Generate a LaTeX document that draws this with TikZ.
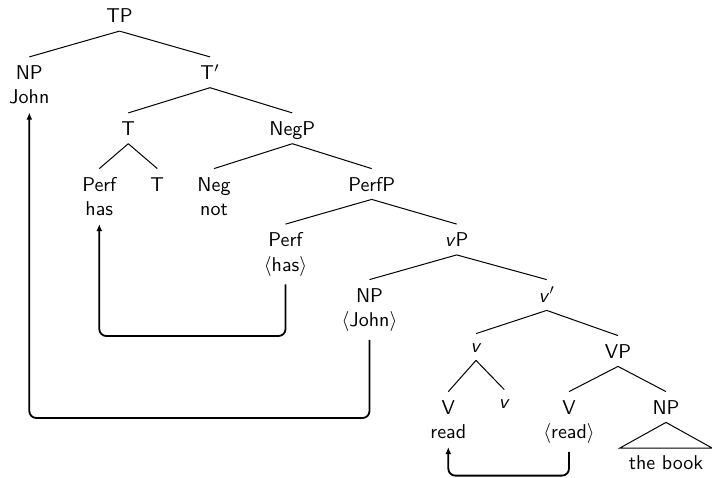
\documentclass[tikz,border=0pt]{standalone}
\usetikzlibrary{arrows.meta}
\begin{document}
\begin{tikzpicture}[x=0.5pt,y=-0.5pt,
  font=\sffamily,
  cat/.style={inner xsep=2pt, inner ysep=4pt, text height=7pt, text depth=0pt},
  catlow/.style={inner xsep=2pt, inner ysep=4pt, text height=5pt, text depth=0pt},
  word/.style={inner xsep=2pt, inner ysep=4pt, anchor=base},
  branch/.style={line width=0.5pt},
  move/.style={line width=0.9pt, rounded corners=3.5pt, -{Latex[length=3.5pt,width=3pt]}}]
\useasboundingbox (0,0) rectangle (712,477);

% categories and words
\node[cat] (tp) at (119.5,15.7) {TP};
\node[cat] (np1) at (29.3,72.3) {NP};
\node[word] (john) at (29.3,103.8) {John};
\node[cat] (tbar) at (210,72.3) {T$'$};
\node[cat] (t) at (128.3,128.3) {T};
\node[cat] (negp) at (292.3,128.3) {NegP};
\node[cat] (perf1) at (99.3,184) {Perf};
\node[word] (has) at (99.3,215.5) {has};
\node[cat] (t2) at (157.3,184) {T};
\node[cat] (neg) at (214,184) {Neg};
\node[word] (not) at (214,215.5) {not};
\node[cat] (perfp) at (371.7,184) {PerfP};
\node[cat] (perf2) at (285.5,239.5) {Perf};
\node[word] (hast) at (285.5,271) {$\langle$has$\rangle$};
\node[cat] (vp) at (456.7,239.5) {\textit{v}P};
\node[cat] (np2) at (369.5,295) {NP};
\node[word] (johnt) at (369.5,326.5) {$\langle$John$\rangle$};
\node[cat] (vbar) at (546.7,295) {\textit{v}$'$};
\node[catlow] (v1) at (476,347) {\textit{v}};
\node[cat] (VP) at (618,351) {VP};
\node[cat] (V1) at (448.3,407) {V};
\node[word] (read) at (448.3,438.5) {read};
\node[catlow] (v2) at (504.3,403) {\textit{v}};
\node[cat] (V2) at (569,407) {V};
\node[word] (readt) at (569,438.5) {$\langle$read$\rangle$};
\node[cat] (np3) at (666,407) {NP};
\node[word, inner xsep=4.3pt, inner ysep=3.33pt] (book) at (666,469) {the book};

% branches
\draw[branch] (tp.south) -- (np1.north);
\draw[branch] (tp.south) -- (tbar.north);
\draw[branch] (tbar.south) -- (t.north);
\draw[branch] (tbar.south) -- (negp.north);
\draw[branch] (t.south) -- (perf1.north);
\draw[branch] (t.south) -- (t2.north);
\draw[branch] (negp.south) -- (neg.north);
\draw[branch] (negp.south) -- (perfp.north);
\draw[branch] (perfp.south) -- (perf2.north);
\draw[branch] (perfp.south) -- (vp.north);
\draw[branch] (vp.south) -- (np2.north);
\draw[branch] (vp.south) -- (vbar.north);
\draw[branch] (vbar.south) -- (v1.north);
\draw[branch] (vbar.south) -- (VP.north);
\draw[branch] (v1.south) -- (V1.north);
\draw[branch] (v1.south) -- (v2.north);
\draw[branch] (VP.south) -- (V2.north);
\draw[branch] (VP.south) -- (np3.north);
\draw[branch] (np3.south) -- (book.north west) -- (book.north east) -- cycle;

% movement arrows
\coordinate (hasbend) at (0,336);
\coordinate (johnbend) at (0,418);
\coordinate (readbend) at (0,475.6);
\draw[move] (hast.south) -- (hast.south |- hasbend) -- (has.south |- hasbend) -- (has.south);
\draw[move] (johnt.south) -- (johnt.south |- johnbend) -- (john.south |- johnbend) -- (john.south);
\draw[move] (readt.south) -- (readt.south |- readbend) -- (read.south |- readbend) -- (read.south);
\end{tikzpicture}
\end{document}
